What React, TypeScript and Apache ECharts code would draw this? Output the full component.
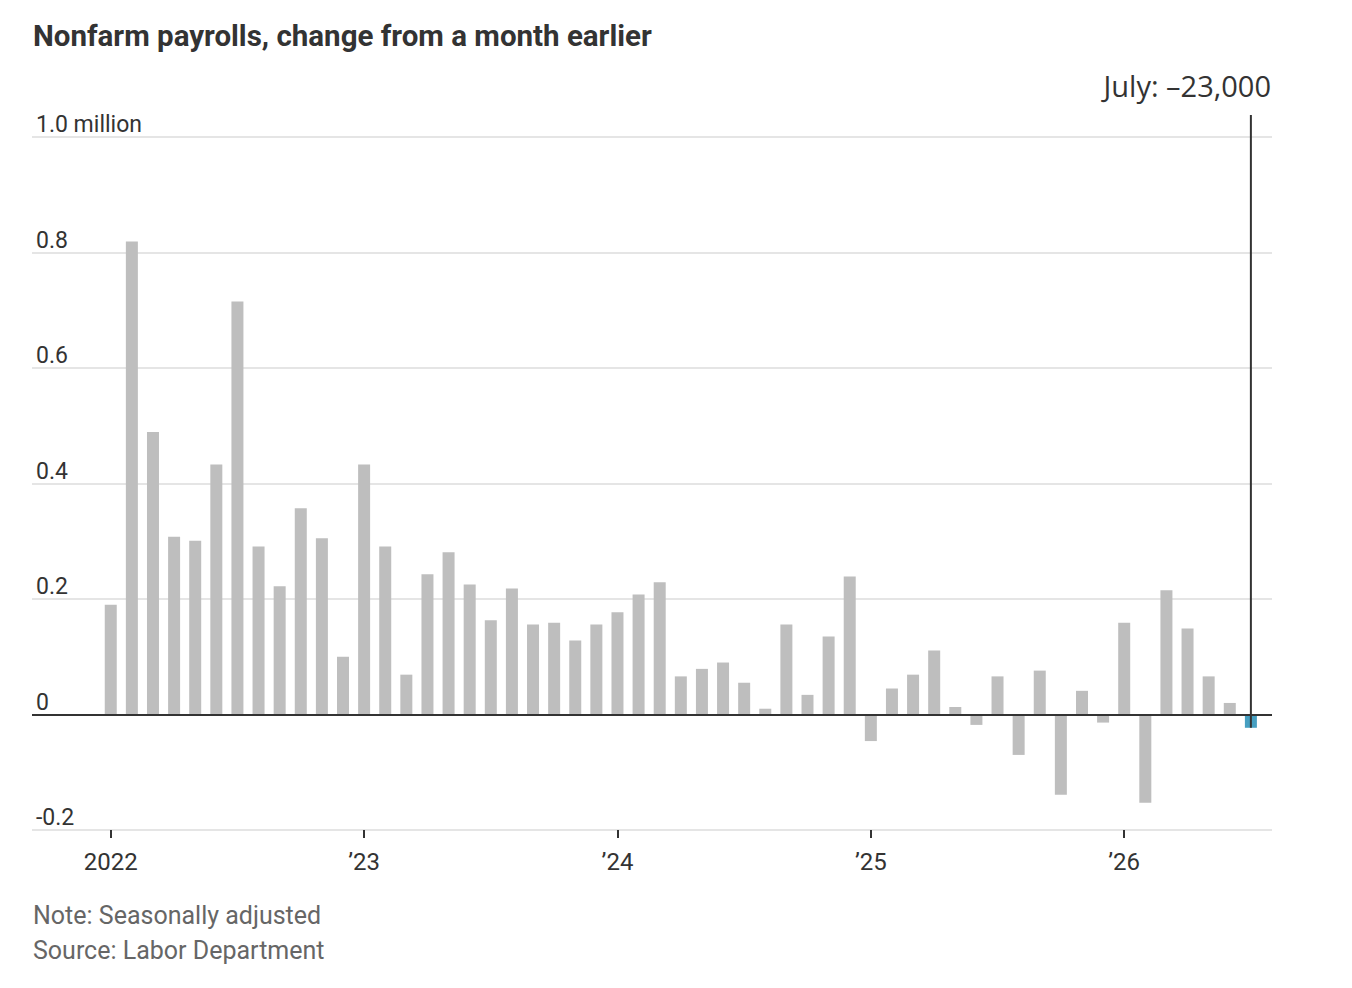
import React, { useEffect, useRef } from "react";
import * as echarts from "echarts";

// Monthly change in nonfarm payrolls, millions (Jan 2022 – Jul 2026)
const values2022 = [0.19, 0.819, 0.489, 0.308, 0.301, 0.433, 0.715, 0.291, 0.222, 0.357, 0.305, 0.1];
const values2023 = [0.433, 0.291, 0.069, 0.243, 0.281, 0.225, 0.163, 0.218, 0.156, 0.159, 0.128, 0.156];
const values2024 = [0.177, 0.208, 0.229, 0.066, 0.079, 0.09, 0.055, 0.01, 0.156, 0.034, 0.135, 0.239];
const values2025 = [-0.046, 0.045, 0.069, 0.111, 0.013, -0.018, 0.066, -0.07, 0.076, -0.139, 0.041, -0.014];
const values2026 = [0.159, -0.153, 0.215, 0.149, 0.066, 0.02, -0.023];
const values = [...values2022, ...values2023, ...values2024, ...values2025, ...values2026];

const yearTickIndex = [0, 12, 24, 36, 48];
const yearTickLabels = ["2022", "\u201923", "\u201924", "\u201925", "\u201926"];
const yTickLabels = ["-0.2", "0", "0.2", "0.4", "0.6", "0.8", "1.0 million"];

const TITLE = "Nonfarm payrolls, change from a month earlier";
const LATEST = "July: \u201323,000";
const NOTE = "Note: Seasonally adjusted";
const SOURCE = "Source: Labor Department";

const Y_MIN = -0.2;
const Y_MAX = 1.0;
const X_MIN = -3.73;
const X_MAX = 55;

export default function App() {
  const ref = useRef<HTMLDivElement>(null);
  useEffect(() => {
    const chart = echarts.init(ref.current as HTMLDivElement, null, { renderer: "svg" });
    const lastIndex = values.length - 1;
    chart.setOption({
      animation: false,
      backgroundColor: "#ffffff",
      textStyle: { fontFamily: "Roboto" },
      title: {
        text: TITLE,
        left: 33,
        top: 21,
        padding: 0,
        textStyle: { fontFamily: "Roboto", fontWeight: "bold", fontSize: 29.5, color: "#333333" },
      },
      grid: { left: 32, right: 80, top: 137, bottom: 158, containLabel: false },
      xAxis: {
        type: "value",
        min: X_MIN,
        max: X_MAX,
        axisLine: { show: false, onZero: false },
        splitLine: { show: false },
        axisTick: {
          show: true,
          customValues: yearTickIndex,
          length: 8,
          lineStyle: { color: "#333333", width: 2 },
        },
        axisLabel: {
          customValues: yearTickIndex,
          formatter: (v: number) => {
            const k = yearTickIndex.indexOf(Math.round(v));
            return k >= 0 ? yearTickLabels[k] : "";
          },
          fontFamily: "Roboto",
          fontSize: 24,
          color: "#333333",
          margin: 20,
        },
      },
      yAxis: {
        type: "value",
        min: Y_MIN,
        max: Y_MAX,
        interval: 0.2,
        axisLine: { show: false },
        axisTick: { show: false },
        splitLine: { lineStyle: { color: "#e5e5e5", width: 2 } },
        axisLabel: {
          inside: true,
          margin: 4,
          align: "left",
          verticalAlign: "bottom",
          padding: [0, 0, 1, 0],
          fontFamily: "Roboto",
          fontSize: 23,
          color: "#333333",
          formatter: (v: number) => {
            const k = Math.round((v - Y_MIN) / 0.2);
            return yTickLabels[k] ?? "";
          },
        },
      },
      series: [
        {
          type: "bar",
          barWidth: 12,
          data: values.map((v, i) => ({
            value: [i, v],
            itemStyle: { color: i === lastIndex ? "#469fc1" : "#bebebe" },
          })),
          markLine: {
            silent: true,
            symbol: "none",
            label: { show: false },
            lineStyle: { color: "#333333", width: 2, type: "solid" },
            data: [{ yAxis: 0 }],
          },
        },
      ],
    });

    const [lx, lyBottom] = chart.convertToPixel({ gridIndex: 0 }, [lastIndex, values[lastIndex]]) as number[];
    const [, yTop] = chart.convertToPixel({ gridIndex: 0 }, [lastIndex, Y_MAX]) as number[];
    const [xRight] = chart.convertToPixel({ gridIndex: 0 }, [X_MAX, 0]) as number[];
    const lineTop = yTop - 22;

    chart.setOption({
      graphic: [
        {
          type: "line",
          z: 100,
          shape: { x1: lx, y1: lineTop, x2: lx, y2: lyBottom },
          style: { stroke: "#333333", lineWidth: 2 },
        },
        {
          type: "text",
          z: 100,
          style: {
            text: LATEST,
            x: xRight - 1,
            y: lineTop - 15,
            align: "right",
            verticalAlign: "bottom",
            fontFamily: "Open Sans",
            fontSize: 29,
            fill: "#333333",
          },
        },
        {
          type: "text",
          style: {
            text: NOTE,
            x: 33,
            y: 915,
            align: "left",
            verticalAlign: "middle",
            fontFamily: "Roboto",
            fontSize: 25,
            fill: "#666666",
          },
        },
        {
          type: "text",
          style: {
            text: SOURCE,
            x: 33,
            y: 950,
            align: "left",
            verticalAlign: "middle",
            fontFamily: "Roboto",
            fontSize: 25,
            fill: "#666666",
          },
        },
      ],
    });

    return () => chart.dispose();
  }, []);
  return <div ref={ref} style={{ position: "fixed", left: 0, top: 0, width: 1352, height: 988 }} />;
}
